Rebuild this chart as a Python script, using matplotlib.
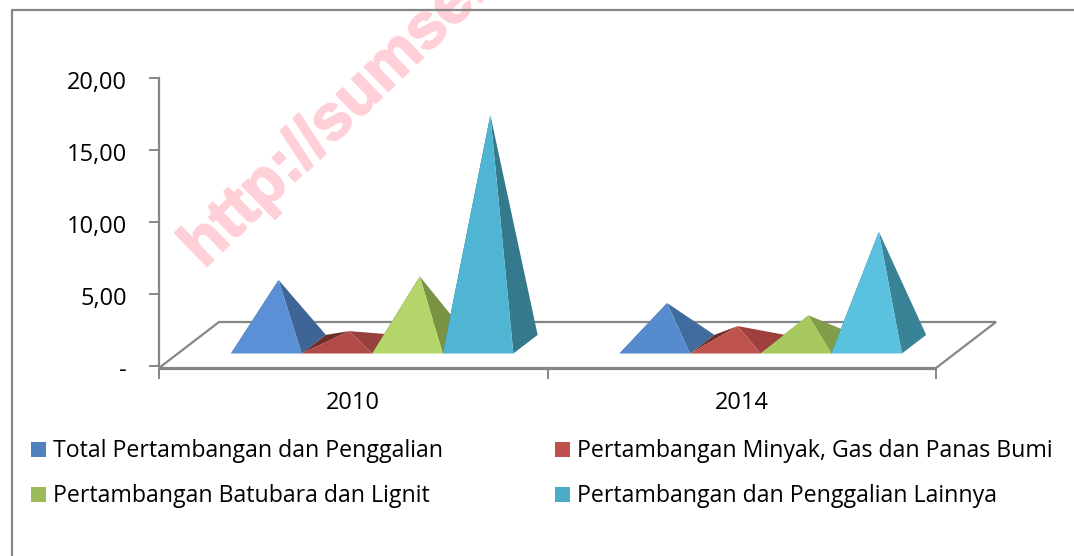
import matplotlib
matplotlib.use('Agg')
import matplotlib.pyplot as plt
import matplotlib.patheffects as pe
from matplotlib.patches import Polygon, Rectangle
from matplotlib.transforms import ScaledTranslation

plt.rcParams['font.family'] = 'Open Sans'

W, H = 1074, 556

years = ['2010', '2014']
series_names = ['Total Pertambangan dan Penggalian',
                'Pertambangan Minyak, Gas dan Panas Bumi',
                'Pertambangan Batubara dan Lignit',
                'Pertambangan dan Penggalian Lainnya']
values_2010 = [4.45, 0.9, 4.7, 15.9]
values_2014 = [2.85, 1.25, 2.0, 7.8]
yticks = [0, 5, 10, 15, 20]
ytick_labels = ['-', '5,00', '10,00', '15,00', '20,00']
legend_colors = ['#4F81BD', '#C0504D', '#9BBB59', '#4BACC6']

# front / right / left face colours for each year (the chart shades them a bit differently)
front_2010 = ['#5B90D6', '#B24A47', '#B3D56A', '#4FB5D3']
right_2010 = ['#3E6596', '#97403D', '#7A9342', '#35798C']
front_2014 = ['#568BCF', '#BE524D', '#A6C85F', '#5AC2DE']
right_2014 = ['#3F6B9F', '#9F403E', '#829D48', '#398396']
left_faces = ['#2F4D73', '#6E2E2C', '#5C6F32', '#28606E']

fig = plt.figure(figsize=(W / 100, H / 100), dpi=100)
fig.patch.set_facecolor('white')

# whole figure overlay in pixel coords, for frame and legend
bg = fig.add_axes([0, 0, 1, 1])
bg.set_xlim(0, W)
bg.set_ylim(H, 0)
bg.axis('off')
bg.plot([12, 12, 1080], [560, 9.5, 9.5], color='#868686', lw=1.6, clip_on=False)
wm = bg.text(192, 257, 'http://sumsel.bps.go.id', color='#FFD0D8', fontsize=46, fontweight='bold',
             family='Liberation Sans', rotation=44, rotation_mode='anchor', ha='left', va='center', zorder=1)
wm.set_path_effects([pe.withStroke(linewidth=1.5, foreground='#FFD0D8')])

# plot area: 159-936 px wide, value 0 at y=366, 20 at y=78
ax = fig.add_axes([159 / W, 1 - 366 / H, 777 / W, 288 / H])
ax.patch.set_alpha(0)
ax.set_xlim(0, 2)
ax.set_ylim(0, 20)
for s in ['top', 'right']:
    ax.spines[s].set_visible(False)
for s in ['left', 'bottom']:
    ax.spines[s].set_color('#868686')
    ax.spines[s].set_linewidth(1.6)
ax.spines['bottom'].set_position(('outward', 2))
ax.set_yticks(yticks)
ax.set_yticklabels(ytick_labels)
ax.set_xticks([0, 1, 2])
ax.set_xticklabels(['', '', ''])
ax.tick_params(axis='y', length=7, width=1.4, color='#868686', labelsize=17, pad=16)
ax.tick_params(axis='x', length=7, width=1.4, color='#868686')
# labels sit 2px lower than the ticks
for lab in ax.get_yticklabels():
    lab.set_transform(lab.get_transform() + ScaledTranslation(0, -2 / 100, fig.dpi_scale_trans))
for i, y in enumerate(years):
    ax.text(i + 0.5, -2.6, y, ha='center', va='center', fontsize=17)

# depth offsets in data units
px_x = 2 / 777
px_y = 20 / 288


def depth(x, y, d):
    # d is 0 at the front of the floor, 1 at the back
    return x + d * 60 * px_x, y + d * 46 * px_y


floor = [depth(0, -2 * px_y, 0), depth(2, -2 * px_y, 0), depth(2, -2 * px_y, 1), depth(0, -2 * px_y, 1)]
ax.add_patch(Polygon(floor, closed=True, fill=False, edgecolor='#868686', lw=1.6, clip_on=False, zorder=2))

bar_w = 0.1817
start = 0.1367
d_front = 0.315
d_back = 0.72
d_mid = 0.52


def pyramid(x0, val, front, right, left):
    x1 = x0 + bar_w
    y0 = -2 * px_y
    fl = depth(x0, y0, d_front)
    fr = depth(x1, y0, d_front)
    bl = depth(x0, y0, d_back)
    br = depth(x1, y0, d_back)
    cx, cy = depth(x0 + bar_w / 2, y0, d_mid)
    apex = (cx, cy + val)
    ax.add_patch(Polygon([fl, bl, apex], color=left, lw=0, clip_on=False, zorder=3))
    ax.add_patch(Polygon([fr, br, apex], color=right, lw=0, clip_on=False, zorder=3))
    ax.add_patch(Polygon([fl, fr, apex], color=front, lw=0, clip_on=False, zorder=3))


for g, (vals, fronts, rights) in enumerate([(values_2010, front_2010, right_2010),
                                            (values_2014, front_2014, right_2014)]):
    for i in range(4):
        pyramid(g + start + i * bar_w, vals[i], fronts[i], rights[i], left_faces[i])

# legend
legend_pos = [(31, 449.5), (555, 449.5), (31, 494.5), (555, 494.5)]
for name, col, (lx, ly) in zip(series_names, legend_colors, legend_pos):
    bg.add_patch(Rectangle((lx, ly - 7.5), 15, 15, color=col, lw=0))
    bg.text(lx + 22, ly + 1.5, name, va='center', ha='left', fontsize=16.7)

fig.savefig('out.png', dpi=100)
